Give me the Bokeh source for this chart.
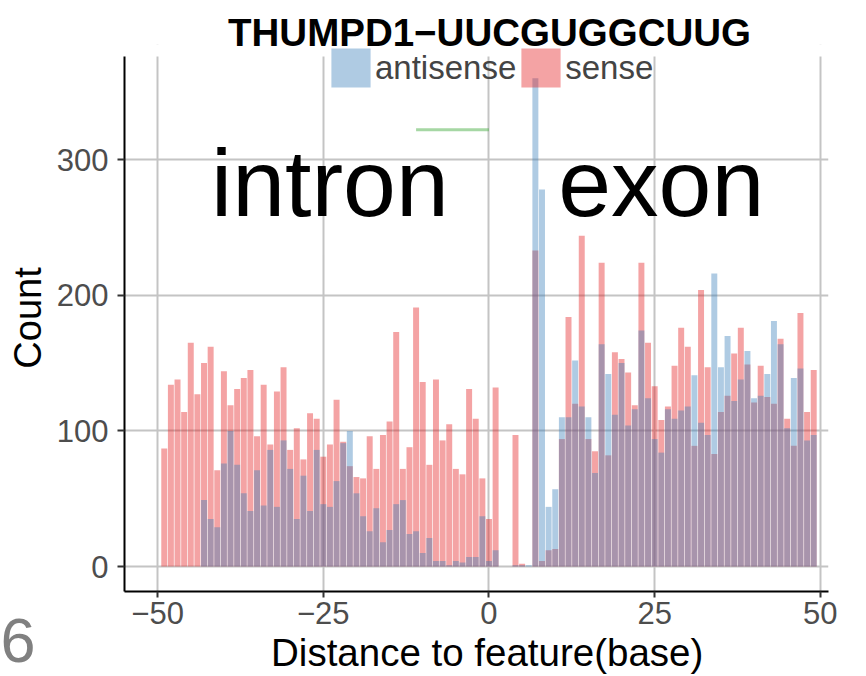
from bokeh.plotting import figure
from bokeh.models import Range1d, FixedTicker, Legend, LegendItem, Label, BoxAnnotation
from bokeh.embed import file_html
from bokeh.resources import INLINE

# ---------------- data ----------------
positions = list(range(-49, 50))
sense = [87, 134, 138, 114, 165, 127, 150, 162, 71, 144,
         119, 131, 139, 145, 96, 134, 90, 129, 147, 86,
         102, 79, 113, 109, 81, 90, 123, 92, 74, 66,
         65, 96, 72, 97, 107, 173, 72, 88, 191, 136,
         75, 138, 93, 105, 72, 68, 131, 109, 65, 35,
         132, 0, 0, 97, 2, 0, 233, 4, 12, 13,
         94, 184, 120, 244, 94, 85, 224, 82, 158, 153,
         143, 119, 224, 165, 133, 108, 118, 148, 176, 162,
         89, 204, 147, 83, 114, 126, 157, 176, 149, 121,
         148, 125, 120, 168, 109, 89, 187, 114, 145]
antisense = [0, 0, 0, 0, 0, 0, 49, 35, 29, 76,
             100, 75, 54, 41, 71, 45, 86, 44, 93, 72,
             35, 67, 41, 86, 46, 44, 63, 91, 100, 54,
             37, 26, 43, 18, 27, 46, 49, 24, 26, 10,
             21, 4, 4, 1, 4, 3, 7, 7, 37, 4,
             12, 0, 0, 1, 1, 1, 360, 278, 44, 57,
             110, 110, 152, 118, 110, 69, 164, 142, 112, 150,
             104, 116, 174, 124, 94, 84, 116, 109, 115, 118,
             141, 106, 97, 216, 147, 170, 122, 138, 159, 124,
             126, 142, 181, 164, 102, 139, 146, 93, 97]

series_names = ["antisense", "sense"]
x_ticks = [-50, -25, 0, 25, 50]
x_tick_labels = ["\u221250", "\u221225", "0", "25", "50"]
y_ticks = [0, 100, 200, 300]
title_text = "THUMPD1\u2212UUCGUGGCUUG"
x_title = "Distance to feature(base)"
y_title = "Count"
region_labels = ["intron", "exon"]
region_x = [-24, 26]
region_y = 283
marker_x = [-11, 0]
marker_y = [322, 322]
panel_tag = "6"

FONT = "Liberation Sans"
W, H = 866, 676
LEFT, RIGHT, TOP, BOTTOM = 124, 38, 44, 84
PX_PER_X = 6.627
PX_PER_Y = 1.3587
X_LO = -55
X_HI = X_LO + (W - LEFT - RIGHT) / PX_PER_X
Y_LO, Y_HI = -18.4, 376
Y_TOP = Y_LO + (H - TOP - BOTTOM) / PX_PER_Y

p = figure(width=W, height=H, output_backend="svg", toolbar_location=None,
           title=None,
           x_range=Range1d(X_LO, X_HI), y_range=Range1d(Y_LO, Y_TOP),
           min_border_left=LEFT, min_border_right=RIGHT, min_border_top=TOP,
           min_border_bottom=BOTTOM)
p.outline_line_color = None
p.background_fill_color = "white"
p.border_fill_color = "white"

r_sense = p.vbar(x=positions, top=sense, bottom=0, width=0.9,
                 fill_color="#E41A1C", fill_alpha=0.4, line_color=None)
r_anti = p.vbar(x=positions, top=antisense, bottom=0, width=0.9,
                fill_color="#377EB8", fill_alpha=0.4, line_color=None)

p.line(x=marker_x, y=marker_y, line_color="#4DAF4A", line_alpha=0.5, line_width=3)

# grids
p.xgrid.ticker = FixedTicker(ticks=x_ticks)
p.ygrid.ticker = FixedTicker(ticks=y_ticks)
for g in (p.xgrid[0], p.ygrid[0]):
    g.grid_line_color = "#c4c4c4"
    g.grid_line_width = 2

# white strip above the panel area (the legend overlaps it)
p.add_layout(BoxAnnotation(bottom=Y_HI, fill_color="white", fill_alpha=1.0,
                           line_color=None, level="underlay"))

# axes
p.xaxis.ticker = FixedTicker(ticks=x_ticks)
p.xaxis.major_label_overrides = {float(t): l for t, l in zip(x_ticks, x_tick_labels)}
p.yaxis.ticker = FixedTicker(ticks=y_ticks)
p.yaxis.bounds = (Y_LO, Y_HI)
for ax in (p.xaxis[0], p.yaxis[0]):
    ax.axis_line_color = "black"
    ax.axis_line_width = 2
    ax.major_tick_line_color = "#333333"
    ax.major_tick_line_width = 2
    ax.major_tick_in = 0
    ax.minor_tick_line_color = None
    ax.major_label_text_font = FONT
    ax.major_label_text_font_size = "31px"
    ax.major_label_text_color = "#4d4d4d"
    ax.axis_label_text_font = FONT
    ax.axis_label_text_font_size = "38px"
    ax.axis_label_text_font_style = "normal"
    ax.axis_label_text_color = "black"
# the frame is centred a little left of the reference's; two no-break spaces re-centre it
p.xaxis[0].axis_label = "\u00a0\u00a0" + x_title
p.xaxis[0].axis_label_text_font_size = "38.5px"
p.yaxis[0].axis_label = y_title
p.xaxis[0].major_tick_out = 6
p.xaxis[0].major_label_standoff = 4
p.xaxis[0].axis_label_standoff = 4
p.yaxis[0].major_tick_out = 7
p.yaxis[0].major_label_standoff = 9
p.yaxis[0].axis_label_standoff = 5

# title, held by the top side panel (screen units of that panel)
p.add_layout(Label(x=489 - LEFT, y=TOP - 31.7, x_units="screen", y_units="screen",
                   text=title_text, text_font=FONT, text_font_size="38.5px",
                   text_font_style="bold", text_align="center",
                   text_baseline="middle", text_color="black"), "above")

# legend
legend = Legend(items=[LegendItem(label=series_names[0], renderers=[r_anti]),
                       LegendItem(label=series_names[1], renderers=[r_sense])],
                orientation="horizontal", location=(202, 499),
                glyph_width=49, glyph_height=49, label_standoff=-3, spacing=-2,
                padding=0, margin=0, border_line_color=None,
                background_fill_alpha=0, label_text_font=FONT,
                label_text_font_size="33px", label_height=49)
p.add_layout(legend)

# in-panel texts
for t, xx in zip(region_labels, region_x):
    p.add_layout(Label(x=xx, y=region_y, text=t, text_font=FONT,
                       text_font_size="95px", text_align="center",
                       text_baseline="middle", text_color="black"))

# panel tag, held by the right side panel (screen units of that panel)
p.add_layout(Label(x=-(W - RIGHT), y=-48.5, x_units="screen", y_units="screen",
                   text=panel_tag, text_font=FONT, text_font_size="63px",
                   text_align="left", text_baseline="middle",
                   text_color="#808080"), "right")

open("out.html", "w").write(file_html(p, INLINE))
